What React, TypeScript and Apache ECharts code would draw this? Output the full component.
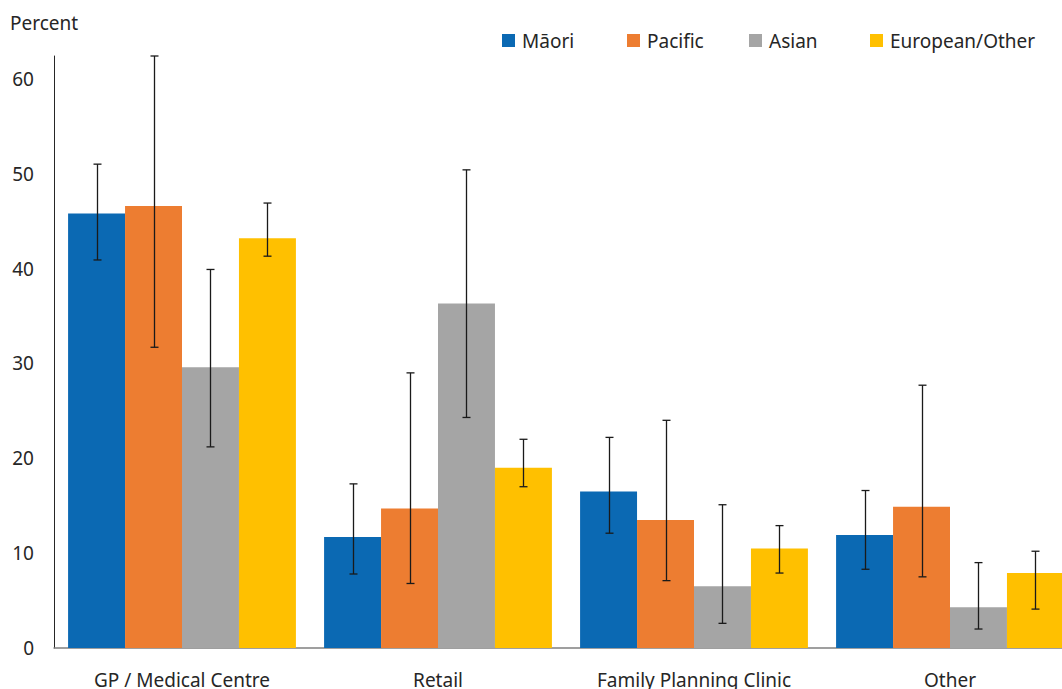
import React, { useEffect, useRef } from "react";
import * as echarts from "echarts";

const categories = ["GP / Medical Centre", "Retail", "Family Planning Clinic", "Other"];
const seriesNames = ["Māori", "Pacific", "Asian", "European/Other"];
const colors = ["#0b69b3", "#ed7d31", "#a5a5a5", "#ffc000"];

const maori = [45.8, 11.7, 16.5, 11.9];
const pacific = [46.6, 14.7, 13.5, 14.9];
const asian = [29.6, 36.3, 6.5, 4.3];
const european = [43.2, 19.0, 10.5, 7.9];

const maoriLow = [40.9, 7.8, 12.1, 8.3];
const maoriHigh = [51.0, 17.3, 22.2, 16.6];
const pacificLow = [31.7, 6.8, 7.1, 7.5];
const pacificHigh = [62.4, 29.0, 24.0, 27.7];
const asianLow = [21.2, 24.3, 2.6, 2.0];
const asianHigh = [39.9, 50.4, 15.1, 9.0];
const europeanLow = [41.3, 17.0, 7.9, 4.1];
const europeanHigh = [46.9, 22.0, 12.9, 10.2];

const yTicks = [0, 10, 20, 30, 40, 50, 60];

const FONT = "Noto Sans";
const CAT_GAP = 0.11;

export default function App() {
  const ref = useRef<HTMLDivElement>(null);
  useEffect(() => {
    if (!ref.current) return;
    const chart = echarts.init(ref.current, null, { renderer: "svg" });
    const values = [maori, pacific, asian, european];
    const lows = [maoriLow, pacificLow, asianLow, europeanLow];
    const highs = [maoriHigh, pacificHigh, asianHigh, europeanHigh];

    const errData: number[][] = [];
    for (let s = 0; s < 4; s++) {
      for (let c = 0; c < categories.length; c++) {
        errData.push([c, s, lows[s][c], highs[s][c]]);
      }
    }

    const legendLefts = [502, 627, 749, 870];

    chart.setOption({
      animation: false,
      textStyle: { fontFamily: FONT },
      grid: { left: 54, right: 0, top: 56, bottom: 40, containLabel: false },
      legend: seriesNames.map((n, i) => ({
        data: [n],
        left: legendLefts[i],
        top: 31,
        padding: 0,
        itemWidth: 13,
        itemHeight: 13,
        itemGap: 0,
        icon: "rect",
        textStyle: { fontFamily: FONT, fontSize: 19, color: "#262626", padding: [0, 0, 0, 2] },
      })),
      graphic: [
        {
          type: "text",
          left: 10,
          top: 13,
          style: { text: "Percent", fontFamily: FONT, fontSize: 19, fill: "#262626" },
        },
      ],
      xAxis: {
        type: "category",
        data: categories,
        axisLine: { show: true, lineStyle: { color: "#7f7f7f", width: 1.5 } },
        axisTick: { show: false },
        axisLabel: { fontFamily: FONT, fontSize: 19, color: "#262626", margin: 22, interval: 0 },
        splitLine: { show: false },
      },
      yAxis: {
        type: "value",
        min: 0,
        max: 62.4,
        interval: 10,
        axisLine: { show: true, lineStyle: { color: "#262626", width: 1 } },
        axisTick: { show: false },
        splitLine: { show: false },
        axisLabel: {
          fontFamily: FONT,
          fontSize: 19,
          color: "#262626",
          margin: 20,
          formatter: (v: number) => (yTicks.includes(Math.round(v * 10) / 10) ? String(v) : ""),
        },
      },
      series: [
        ...seriesNames.map((n, i) => ({
          name: n,
          type: "bar",
          data: values[i],
          barGap: "0%",
          barCategoryGap: CAT_GAP * 100 + "%",
          itemStyle: { color: colors[i] },
        })),
        {
          type: "custom",
          data: errData,
          encode: { x: 0, y: [2, 3] },
          z: 10,
          renderItem: (params: any, api: any) => {
            const c = api.value(0);
            const s = api.value(1);
            const lo = api.coord([c, api.value(2)]);
            const hi = api.coord([c, api.value(3)]);
            const bandW = api.size([1, 0])[0];
            const barW = (bandW * (1 - CAT_GAP)) / 4;
            const x = Math.round(lo[0] + (s - 1.5) * barW) + 0.5;
            const cap = 4;
            const style = { stroke: "#1a1a1a", lineWidth: 1.3 };
            return {
              type: "group",
              children: [
                { type: "line", shape: { x1: x, y1: lo[1], x2: x, y2: hi[1] }, style },
                { type: "line", shape: { x1: x - cap, y1: lo[1], x2: x + cap, y2: lo[1] }, style },
                { type: "line", shape: { x1: x - cap, y1: hi[1], x2: x + cap, y2: hi[1] }, style },
              ],
            };
          },
        },
      ],
    });
    return () => chart.dispose();
  }, []);
  return (
    <div
      ref={ref}
      style={{ position: "fixed", left: 0, top: 0, width: 1078, height: 689, background: "#fff" }}
    />
  );
}
